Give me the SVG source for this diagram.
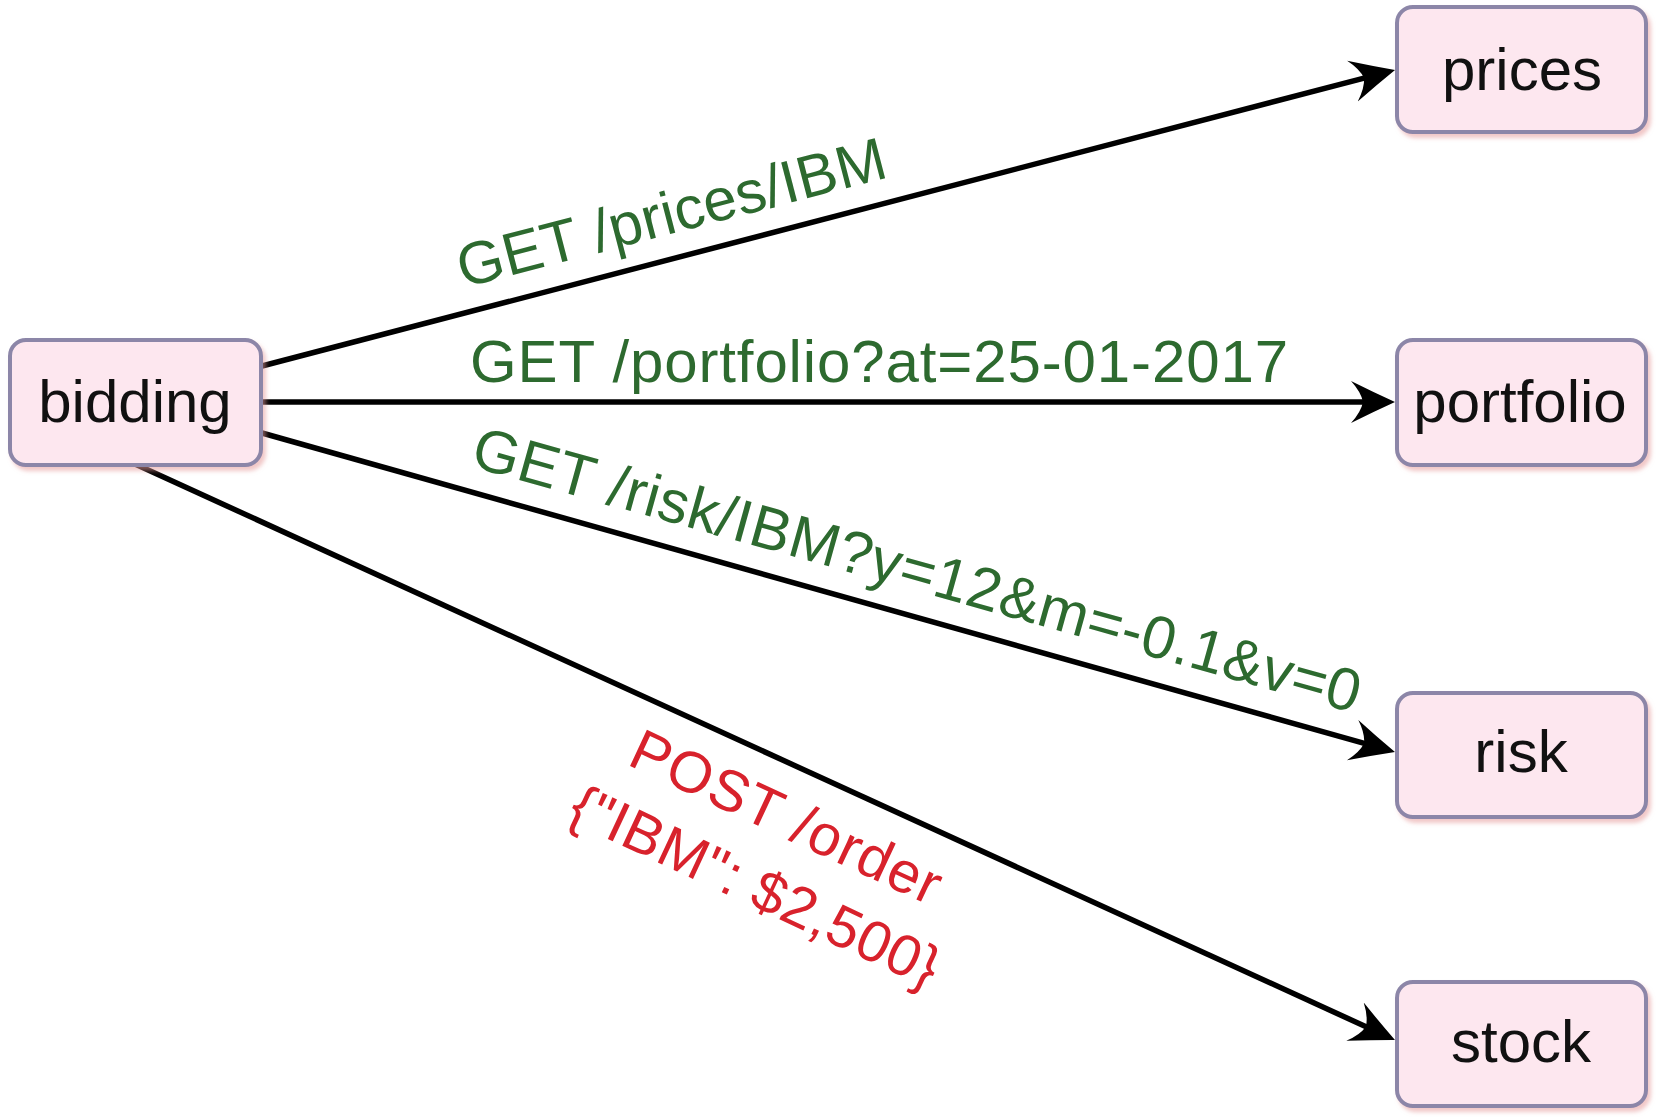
<svg xmlns="http://www.w3.org/2000/svg" width="1658" height="1120" viewBox="0 0 1658 1120">
  <style>
    .box { fill: #fde7ef; stroke: #8c86a8; stroke-width: 4; filter: url(#shadow); }
    .ntext { font-family: "Liberation Sans", Arial, sans-serif; font-size: 60px; fill: #111111; text-anchor: middle; }
    .edge { stroke: #000000; stroke-width: 5.5; fill: none; marker-end: url(#arrow); }
    .get { font-family: "Liberation Sans", Arial, sans-serif; font-size: 60px; fill: #2d6a2f; }
    .post { font-family: "Liberation Sans", Arial, sans-serif; font-size: 58px; fill: #d8222c; text-anchor: middle; }
  </style>
  <defs>
    <filter id="shadow" x="-10%" y="-10%" width="125%" height="130%">
      <feDropShadow dx="3" dy="4" stdDeviation="2" flood-color="#e59a9a" flood-opacity="0.55"/>
    </filter>
    <marker id="arrow" viewBox="0 0 44 44" markerUnits="userSpaceOnUse" markerWidth="44" markerHeight="44" refX="14" refY="22" orient="auto">
      <path d="M0,1 Q22,12 44,22 Q22,32 0,43 Q10,32 12,22 Q10,12 0,1 Z" fill="#000000"/>
    </marker>
  </defs>
  <rect width="1658" height="1120" fill="#ffffff"/>

  <g id="connectors">
    <line class="edge" x1="262" y1="366" x2="1366" y2="77.6"/>
    <line class="edge" x1="262" y1="402" x2="1365" y2="402"/>
    <line class="edge" x1="262" y1="433" x2="1366.1" y2="743.9"/>
    <line class="edge" x1="135" y1="464" x2="1367.7" y2="1027.5"/>
    <text class="get" transform="translate(463,288) rotate(-14.6)" textLength="441" lengthAdjust="spacing">GET /prices/IBM</text>
    <text class="get" x="470" y="382" textLength="818" lengthAdjust="spacing">GET /portfolio?at=25-01-2017</text>
    <text class="get" transform="translate(469,466) rotate(15.6)" textLength="919" lengthAdjust="spacing">GET /risk/IBM?y=12&amp;m=-0.1&amp;v=0</text>
    <text class="post" transform="translate(778,835) rotate(25)" textLength="336" lengthAdjust="spacing">POST /order</text>
    <text class="post" transform="translate(747,904) rotate(25)" textLength="400" lengthAdjust="spacing">{"IBM": $2,500}</text>
  </g>

  <g id="bidding">
    <rect class="box" x="10" y="340" width="251" height="125" rx="16"/>
    <text class="ntext" x="135" y="422">bidding</text>
  </g>
  <g id="prices">
    <rect class="box" x="1397" y="7" width="249" height="125" rx="16"/>
    <text class="ntext" x="1522" y="90">prices</text>
  </g>
  <g id="portfolio">
    <rect class="box" x="1397" y="340" width="249" height="125" rx="16"/>
    <text class="ntext" x="1520" y="422">portfolio</text>
  </g>
  <g id="risk">
    <rect class="box" x="1397" y="693" width="249" height="124" rx="16"/>
    <text class="ntext" x="1521" y="772">risk</text>
  </g>
  <g id="stock">
    <rect class="box" x="1397" y="982" width="249" height="124" rx="16"/>
    <text class="ntext" x="1521" y="1062">stock</text>
  </g>
</svg>
